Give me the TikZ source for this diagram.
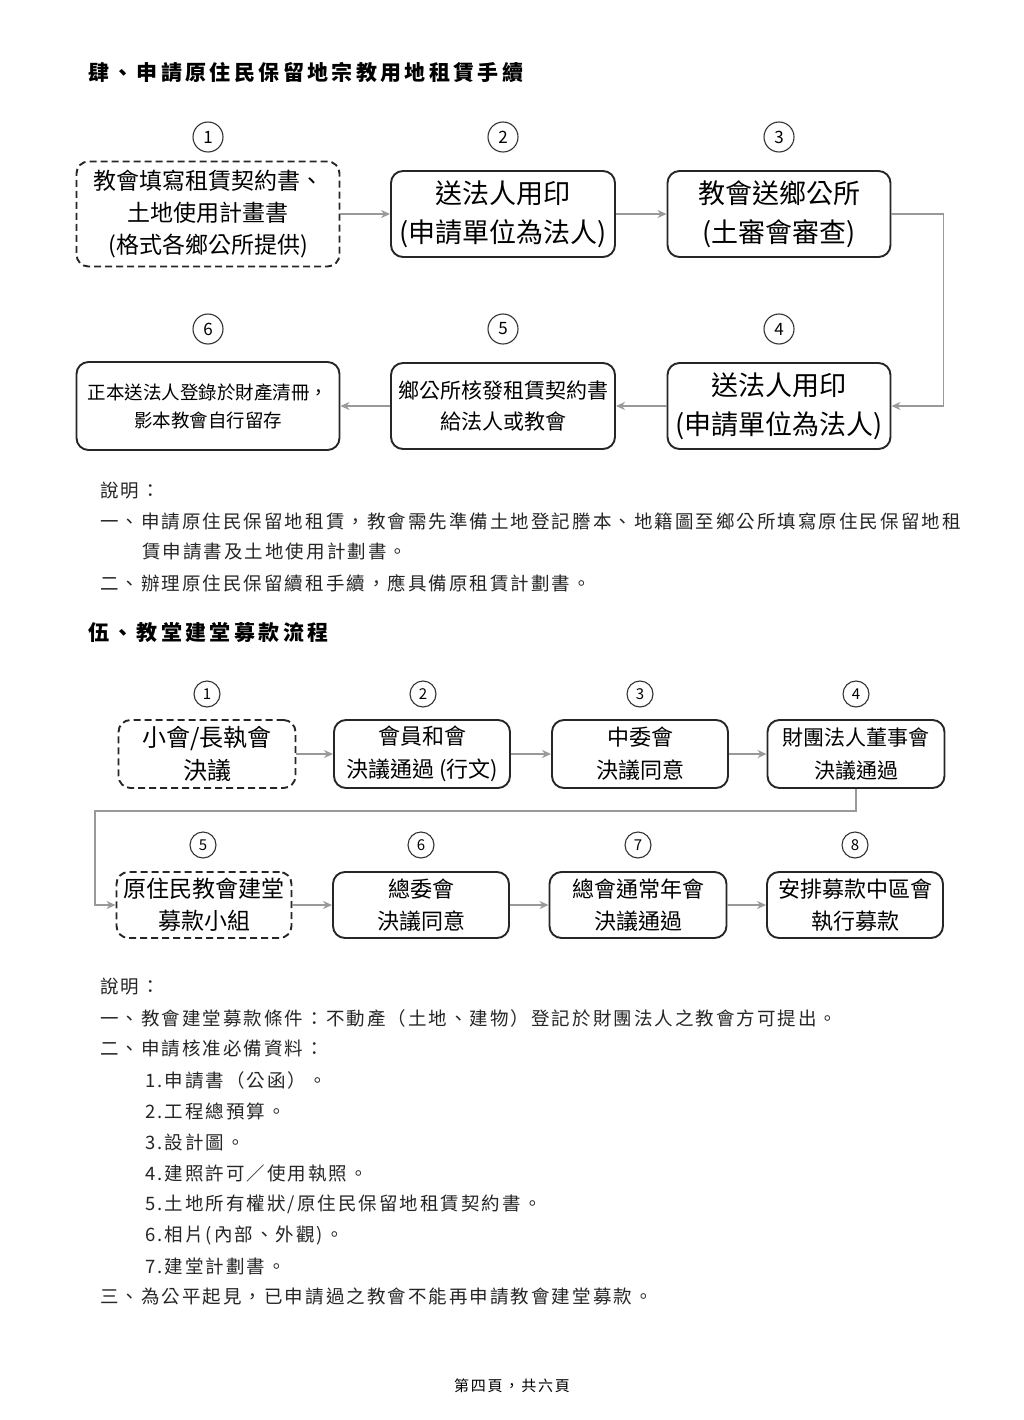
\documentclass[tikz,border=0pt]{standalone}
\usepackage{fontspec}
\setmainfont{Noto Sans CJK TC}
\newfontfamily\notefont[LetterSpace=11]{Noto Sans CJK TC}
\newfontfamily\headfont[LetterSpace=16]{Noto Sans CJK TC}
\newfontfamily\footfont[LetterSpace=12]{Noto Sans CJK TC}
\usetikzlibrary{arrows.meta}

\begin{document}
\begin{tikzpicture}[
    x=1pt, y=-1pt,
    % Estilos de cajas
    flow box/.style={draw=black!85, line width=1.9pt, rounded corners=12pt, align=center, inner sep=0pt},
    open box/.style={flow box, dash pattern=on 7pt off 4pt},
    % Estilos de numeros
    num circle/.style={circle, draw=black!80, line width=1.1pt, minimum size=30pt, inner sep=0pt, font=\fontsize{17}{17}\selectfont},
    small circle/.style={num circle, minimum size=26pt, font=\fontsize{15}{15}\selectfont},
    % Estilos de flechas
    flow arrow/.style={draw=black!40, line width=1.8pt, -{Stealth[length=9pt,width=8pt]}},
    % Estilos de texto
    head text/.style={anchor=west, inner sep=0pt, font=\headfont\bfseries\fontsize{21}{24}\selectfont},
    note text/.style={anchor=west, inner sep=0pt, text=black!85, font=\notefont\fontsize{18.5}{20}\selectfont}
]

\useasboundingbox[fill=white] (0,0) rectangle (1024,1420);

% 1. Titulo de la primera parte
\node[head text] (head1) at (88,73) {肆、申請原住民保留地宗教用地租賃手續};

% 2. Cajas del primer flujo
\node[open box, minimum width=263pt, minimum height=105pt, font=\fontsize{23}{32}\selectfont] (a1) at (208,214) {教會填寫租賃契約書、\\土地使用計畫書\\(格式各鄉公所提供)};
\node[flow box, minimum width=224pt, minimum height=86pt, font=\fontsize{27}{39}\selectfont] (a2) at (503,214) {送法人用印\\(申請單位為法人)};
\node[flow box, minimum width=223pt, minimum height=86pt, font=\fontsize{27}{39}\selectfont] (a3) at (779,214) {教會送鄉公所\\(土審會審查)};
\node[flow box, minimum width=223pt, minimum height=86pt, font=\fontsize{27}{39}\selectfont] (a4) at (779,406) {送法人用印\\(申請單位為法人)};
\node[flow box, minimum width=224pt, minimum height=86pt, font=\fontsize{21}{31}\selectfont] (a5) at (503,406) {鄉公所核發租賃契約書\\給法人或教會};
\node[flow box, minimum width=263pt, minimum height=88pt, font=\fontsize{18.5}{28}\selectfont] (a6) at (208,406) {正本送法人登錄於財產清冊，\\影本教會自行留存};

\foreach \n/\x/\y in {1/208/137, 2/503/137, 3/779/137, 4/779/329, 5/503/329, 6/208/329}
    \node[num circle] (ca\n) at (\x,\y) {\n};

% 3. Flechas del primer flujo
\foreach \i/\j in {a1/a2, a2/a3, a4/a5, a5/a6}
    \draw[flow arrow] (\i) -- (\j);
\draw[flow arrow] (a3.east) -- ++(52,0) |- (a4.east);

% 4. Notas de la primera parte
\foreach \y/\x/\txt [count=\k] in {
    491/100/{說明：},
    522/100/{一、申請原住民保留地租賃，教會需先準備土地登記謄本、地籍圖至鄉公所填寫原住民保留地租},
    552/142/{賃申請書及土地使用計劃書。},
    583/100/{二、辦理原住民保留續租手續，應具備原租賃計劃書。}
}{
    \node[note text] (na\k) at (\x,\y) {\txt};
}

% 5. Titulo de la segunda parte
\node[head text] (head2) at (88,632) {伍、教堂建堂募款流程};

% 6. Cajas del segundo flujo
\node[open box, minimum width=177pt, minimum height=68pt, font=\fontsize{24}{33}\selectfont] (b1) at (207,754) {小會/長執會\\決議};
\node[flow box, minimum width=176pt, minimum height=68pt, font=\fontsize{22}{33}\selectfont] (b2) at (422,754) {會員和會\\決議通過 (行文)};
\node[flow box, minimum width=176pt, minimum height=68pt, font=\fontsize{22}{33}\selectfont] (b3) at (640,754) {中委會\\決議同意};
\node[flow box, minimum width=177pt, minimum height=68pt, font=\fontsize{21}{33}\selectfont] (b4) at (856,754) {財團法人董事會\\決議通過};
\node[open box, minimum width=175pt, minimum height=66pt, font=\fontsize{23}{32}\selectfont] (b5) at (204,905) {原住民教會建堂\\募款小組};
\node[flow box, minimum width=176pt, minimum height=66pt, font=\fontsize{22}{32}\selectfont] (b6) at (421,905) {總委會\\決議同意};
\node[flow box, minimum width=177pt, minimum height=66pt, font=\fontsize{22}{32}\selectfont] (b7) at (638,905) {總會通常年會\\決議通過};
\node[flow box, minimum width=176pt, minimum height=66pt, font=\fontsize{22}{32}\selectfont] (b8) at (855,905) {安排募款中區會\\執行募款};

\foreach \n/\x/\y in {1/207/694, 2/423/694, 3/640/694, 4/856/694, 5/203/845, 6/421/845, 7/638/845, 8/855/845}
    \node[small circle] (cb\n) at (\x,\y) {\n};

% 7. Flechas del segundo flujo
\foreach \i/\j in {b1/b2, b2/b3, b3/b4, b5/b6, b6/b7, b7/b8}
    \draw[flow arrow] (\i) -- (\j);
\coordinate (turn) at (95,811);
\draw[flow arrow] (b4.south) |- (turn) |- (b5.west);

% 8. Notas de la segunda parte
\foreach \y/\x/\txt [count=\k] in {
    987/100/{說明：},
    1018/100/{一、教會建堂募款條件：不動產（土地、建物）登記於財團法人之教會方可提出。},
    1049/100/{二、申請核准必備資料：},
    1080/145/{1.申請書（公函）。},
    1111/145/{2.工程總預算。},
    1142/145/{3.設計圖。},
    1173/145/{4.建照許可／使用執照。},
    1204/145/{5.土地所有權狀/原住民保留地租賃契約書。},
    1235/145/{6.相片(內部、外觀)。},
    1266/145/{7.建堂計劃書。},
    1297/100/{三、為公平起見，已申請過之教會不能再申請教會建堂募款。}
}{
    \node[note text] (nb\k) at (\x,\y) {\txt};
}

% 9. Pie de pagina
\node[font=\footfont\fontsize{15}{16}\selectfont] (footer) at (512,1386) {第四頁，共六頁};

\end{tikzpicture}
\end{document}
